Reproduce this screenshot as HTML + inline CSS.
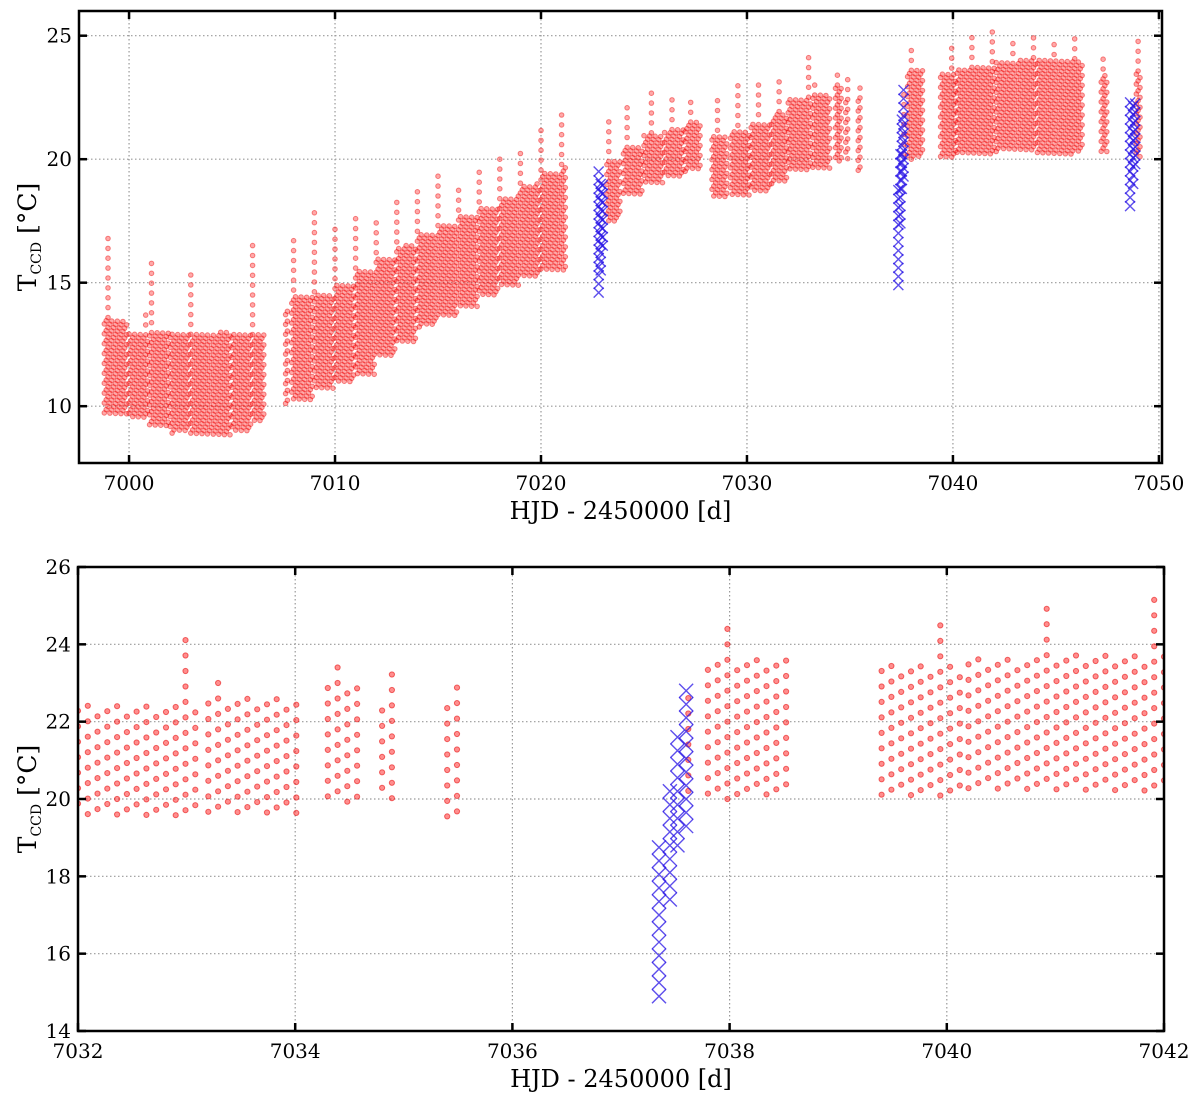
<!DOCTYPE html>
<html><head><meta charset="utf-8"><style>
html,body{margin:0;padding:0;background:#fff;}
svg{display:block;font-family:"DejaVu Serif","Liberation Serif",serif;}
</style></head><body>
<svg id="chart" width="1200" height="1093" viewBox="0 0 1200 1093" xmlns="http://www.w3.org/2000/svg"></svg>
<script>
// ---- data: observing nights (HJD-2450000) ----
const nightStart=[6998.8,7000.0,7001.0,7002.0,7003.0,7004.0,7005.0,7006.0,7007.6,7007.9,7009.0,7010.0,7011.0,7012.0,7013.0,7014.0,7015.0,7016.0,7017.0,7018.0,7019.0,7020.0,7021.0,7023.2,7024.0,7025.0,7026.0,7027.0,7028.3,7029.2,7030.2,7031.2,7032.0,7033.2,7034.3,7034.8,7035.4,7037.62,7037.8,7039.4,7040.2,7041.1,7042.1,7043.1,7044.1,7045.1,7047.2,7048.9];
const nightEnd=[6999.9,7000.95,7001.9,7002.9,7003.9,7004.9,7005.9,7006.6,7007.7,7008.9,7009.9,7010.9,7011.9,7012.9,7013.9,7014.9,7015.9,7016.9,7017.9,7018.9,7019.9,7020.9,7021.2,7023.9,7024.9,7025.9,7026.9,7027.8,7029.1,7030.1,7031.1,7031.95,7033.15,7034.05,7034.6,7034.9,7035.5,7037.7,7038.6,7040.15,7041.05,7042.05,7043.05,7044.05,7045.05,7046.3,7047.5,7049.1];
const nightLow=[9.6,9.5,9.2,8.9,8.8,8.8,9.0,9.3,10.0,10.2,10.7,11.0,11.2,12.0,12.6,13.2,13.6,14.0,14.5,14.8,15.2,15.5,15.5,17.5,18.5,19.0,19.3,19.5,18.4,18.5,18.7,19.0,19.5,19.6,19.9,20.0,19.4,20.2,20.0,20.0,20.2,20.2,20.3,20.3,20.2,20.2,20.2,20.0];
const nightHigh=[13.5,13.0,13.0,13.0,13.0,13.0,13.0,13.0,14.0,14.5,14.5,15.0,15.5,16.0,16.5,17.0,17.3,17.7,18.0,18.5,19.0,19.5,19.8,20.0,20.5,21.0,21.2,21.5,21.0,21.2,21.5,21.8,22.5,22.7,23.0,22.5,22.5,23.0,23.6,23.5,23.7,23.8,24.0,24.0,24.0,24.0,23.5,23.5];
const nightPeak=[17.0,14.0,15.8,16.5,15.7,16.0,16.8,16.7,14.0,16.9,18.1,17.5,17.7,17.8,18.5,19.0,19.6,19.1,19.6,20.3,20.5,21.5,21.8,21.8,22.1,23.0,22.5,22.3,22.5,23.0,23.3,23.5,24.3,23.2,23.6,23.6,23.0,23.5,24.7,24.8,25.0,25.5,25.0,25.2,25.0,25.0,24.4,24.8];
const nightPeakAt=[6998.95,7000.8,7001.05,7001.95,7003.0,7003.95,7004.95,7005.97,7007.65,7007.96,7009.0,7010.0,7011.0,7012.0,7013.0,7014.0,7015.0,7016.0,7017.0,7018.0,7019.0,7020.0,7021.0,7023.3,7024.2,7025.4,7026.4,7027.3,7028.6,7029.6,7030.6,7031.6,7033.0,7033.3,7034.4,7034.85,7035.45,7037.68,7037.95,7039.95,7040.95,7041.95,7042.9,7043.9,7044.9,7045.9,7047.25,7048.95];
// ---- data: flagged points (blue crosses) ----
const blueX=[7022.8,7022.9,7023.0,7037.35,7037.45,7037.52,7037.6,7048.6,7048.75,7048.85];
const blueLo=[14.6,15.5,16.5,14.9,17.4,18.8,19.3,18.1,19.0,19.8];
const blueHi=[19.6,19.3,19.0,18.8,20.5,21.8,22.9,22.5,22.3,22.5];
// ---- ticks ----
const topXTicks=[7000,7010,7020,7030,7040,7050];
const topYTicks=[10,15,20,25];
const botXTicks=[7032,7034,7036,7038,7040,7042];
const botYTicks=[14,16,18,20,22,24,26];

const NS="http://www.w3.org/2000/svg";
const svg=document.getElementById('chart');
function mk(tag,attrs,parent){const e=document.createElementNS(NS,tag);for(const k in attrs)e.setAttribute(k,attrs[k]);(parent||svg).appendChild(e);return e;}

const COLSTEP=0.09, PSTEP=0.4;
const redPts=[];
let ci=0;
for(let n=0;n<nightStart.length;n++){
  for(let t=nightStart[n];t<=nightEnd[n]+1e-6;t+=COLSTEP){
    ci++;
    const isPeak=Math.abs(t-nightPeakAt[n])<COLSTEP/2+0.001;
    const hi=isPeak?nightPeak[n]:nightHigh[n];
    const ph=(ci*0.13)%PSTEP;
    for(let v=nightLow[n]+ph;v<=hi;v+=PSTEP) redPts.push([t,v]);
  }
}
const bluePts=[];
for(let i=0;i<blueX.length;i++) for(let v=blueLo[i];v<=blueHi[i]+1e-6;v+=0.35) bluePts.push([blueX[i],v]);

function panel(cfg){
  const g=mk('g',{});
  
  
  const X=v=>cfg.L+(v-cfg.x0)/(cfg.x1-cfg.x0)*(cfg.R-cfg.L);
  const Y=v=>cfg.B-(v-cfg.y0)/(cfg.y1-cfg.y0)*(cfg.B-cfg.T);
  const clipId=cfg.name+'-clip';
  const cp=mk('clipPath',{id:clipId},g);mk('rect',{x:cfg.L,y:cfg.T,width:cfg.R-cfg.L,height:cfg.B-cfg.T},cp);
  const grid=mk('g',{stroke:'#999','stroke-width':1.2,'stroke-dasharray':'1.5,2.5'},g);
  
  
  cfg.xt.forEach(v=>mk('line',{x1:X(v),x2:X(v),y1:cfg.T,y2:cfg.B},grid));
  cfg.yt.forEach(v=>mk('line',{x1:cfg.L,x2:cfg.R,y1:Y(v),y2:Y(v)},grid));
  const dg=mk('g',{'clip-path':'url(#'+clipId+')'},g);
  const rg=mk('g',{fill:cfg.fill,stroke:cfg.stroke,'stroke-width':1},dg);
  
  
  redPts.forEach(p=>{if(p[0]<cfg.x0-0.1||p[0]>cfg.x1+0.1)return;mk('circle',{cx:X(p[0]).toFixed(1),cy:Y(p[1]).toFixed(1),r:cfg.r},rg);});
  const bg=mk('g',{stroke:'rgba(40,20,230,0.75)','stroke-width':1.4,fill:'none'},dg);
  
  
  const s=cfg.xs;
  bluePts.forEach(p=>{if(p[0]<cfg.x0||p[0]>cfg.x1)return;const x=X(p[0]),y=Y(p[1]);
    mk('path',{d:`M${x-s},${y-s}L${x+s},${y+s}M${x-s},${y+s}L${x+s},${y-s}`},bg);});
  const fr=mk('rect',{x:cfg.L,y:cfg.T,width:cfg.R-cfg.L,height:cfg.B-cfg.T,fill:'none',stroke:'#000','stroke-width':2.5},g);
  
  
  const tk=mk('g',{stroke:'#000','stroke-width':2.5},g);
  cfg.xt.forEach(v=>{mk('line',{x1:X(v),x2:X(v),y1:cfg.B,y2:cfg.B-8},tk);mk('line',{x1:X(v),x2:X(v),y1:cfg.T,y2:cfg.T+8},tk);});
  cfg.yt.forEach(v=>{mk('line',{x1:cfg.L,x2:cfg.L+8,y1:Y(v),y2:Y(v)},tk);mk('line',{x1:cfg.R,x2:cfg.R-8,y1:Y(v),y2:Y(v)},tk);});
  cfg.xt.forEach(v=>{const t=mk('text',{x:X(v),y:cfg.B+27,'text-anchor':'middle','font-size':20},g);t.textContent=v;
    
    });
  cfg.yt.forEach(v=>{const t=mk('text',{x:cfg.L-7,y:Y(v)+7,'text-anchor':'end','font-size':20},g);t.textContent=v;
    
    });
  const xl=mk('text',{x:(cfg.L+cfg.R)/2,y:cfg.B+56,'text-anchor':'middle','font-size':24},g);
  xl.textContent='HJD - 2450000 [d]';
  
  
  const cy=(cfg.T+cfg.B)/2;
  const yl=mk('text',{transform:`translate(36,${cy}) rotate(-90)`,'text-anchor':'middle','font-size':25},g);
  yl.innerHTML='T<tspan font-size="14" dy="5">CCD</tspan><tspan dy="-5"> [°C]</tspan>';
  
  
}
panel({name:'top-panel',L:79,R:1162,T:11,B:463,x0:6997.57,x1:7050.15,y0:7.7,y1:26,xt:topXTicks,yt:topYTicks,r:2.3,xs:5,fill:'rgba(255,40,40,0.4)',stroke:'rgba(235,0,0,0.45)'});
panel({name:'bottom-panel',L:78,R:1164,T:567,B:1031,x0:7032,x1:7042,y0:14,y1:26,xt:botXTicks,yt:botYTicks,r:2.6,xs:7,fill:'rgba(255,30,30,0.5)',stroke:'rgba(230,0,0,0.55)'});
</script>
</body></html>
